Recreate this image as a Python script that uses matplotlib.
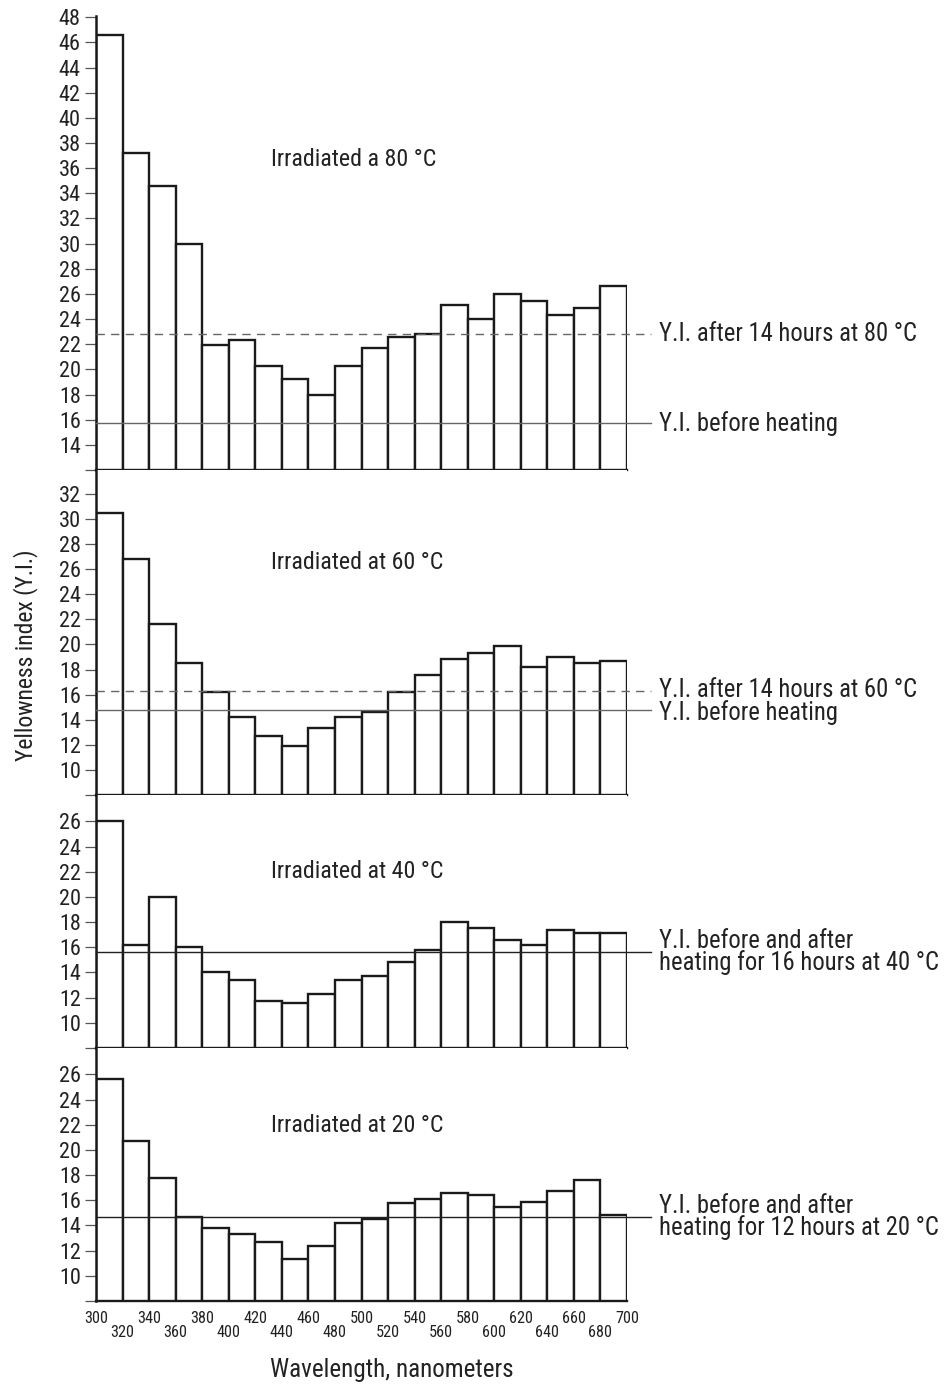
import numpy as np
import matplotlib
matplotlib.use("Agg")
import matplotlib.pyplot as plt
import matplotlib.transforms as mtransforms
import matplotlib.font_manager as fm
from matplotlib.textpath import TextPath
from matplotlib.font_manager import FontProperties

# The reference is set in a condensed grotesque. Among the installed sans
# families (and their width variants) pick the one whose width/cap-height
# ratio for the panel title is closest to it.
FAMILIES = ["Noto Sans", "Roboto", "Open Sans", "Lato", "Inter",
            "Liberation Sans", "DejaVu Sans"]
WIDTHS = {"", "Condensed", "SemiCondensed", "ExtraCondensed", "Narrow",
          "Semi Condensed", "Extra Condensed"}
SAMPLE = "Irradiated a 80 \u00b0C"

cands = {}
for f in fm.fontManager.ttflist:
    if f.style != "normal" or f.weight not in (400, "normal", "regular"):
        continue
    for p in FAMILIES:
        if f.name == p or (f.name.startswith(p + " ") and f.name[len(p) + 1:] in WIDTHS):
            cands.setdefault((f.name, f.stretch), f.fname)

best, best_score = None, None
for key, fname in list(cands.items())[:40]:
    fp = FontProperties(fname=fname)
    try:
        w = TextPath((0, 0), SAMPLE, size=100, prop=fp).get_extents().width
        h = TextPath((0, 0), "H", size=100, prop=fp).get_extents().height
    except Exception:
        continue
    score = abs(w / h - 166 / 18)
    if best_score is None or score < best_score:
        best, best_score = key, score

if best is None:
    best = ("DejaVu Sans", "normal")
plt.rcParams['font.family'] = [best[0], 'DejaVu Sans']
plt.rcParams['font.stretch'] = best[1]

# ===============================
# DATA
# ===============================
bin_edges = np.arange(300, 700, 20)          # left edge of each 20 nm band
xtick_vals = np.arange(300, 701, 20)

yi_80 = [46.6, 37.2, 34.6, 30.0, 21.9, 22.3, 20.3, 19.2, 18.0, 20.3,
         21.7, 22.6, 22.8, 25.1, 24.0, 26.0, 25.4, 24.3, 24.9, 26.6]
yi_60 = [30.5, 26.8, 21.6, 18.5, 16.2, 14.2, 12.7, 11.9, 13.3, 14.2,
         14.6, 16.2, 17.6, 18.8, 19.3, 19.9, 18.2, 19.0, 18.5, 18.7]
yi_40 = [26.0, 16.2, 20.0, 16.0, 14.0, 13.4, 11.7, 11.6, 12.3, 13.4,
         13.7, 14.8, 15.8, 18.0, 17.5, 16.6, 16.2, 17.4, 17.1, 17.1]
yi_20 = [25.6, 20.7, 17.8, 14.7, 13.8, 13.3, 12.7, 11.3, 12.4, 14.2,
         14.5, 15.8, 16.1, 16.6, 16.4, 15.5, 15.9, 16.7, 17.6, 14.8]

titles = ["Irradiated a 80 \u00b0C", "Irradiated at 60 \u00b0C",
          "Irradiated at 40 \u00b0C", "Irradiated at 20 \u00b0C"]

# reference levels: (value, dashed?, label, label nudge in px)
ref_80 = [(22.8, True, "Y.I. after 14 hours at 80 \u00b0C", 0),
          (15.7, False, "Y.I. before heating", 0)]
ref_60 = [(16.25, True, "Y.I. after 14 hours at 60 \u00b0C", 1),
          (14.8, False, "Y.I. before heating", -3)]
ref_40 = [(15.6, False, "Y.I. before and after\nheating for 16 hours at 40 \u00b0C", 0)]
ref_20 = [(14.7, False, "Y.I. before and after\nheating for 12 hours at 20 \u00b0C", 0)]

# ===============================
# LAYOUT  (pixel boxes from the reference)
# ===============================
W, H = 947, 1384
x0, x1 = 96, 627
panels = [
    # values, refs, title, top px, bottom px, ylo, yhi, ticks, title y frac, line colour
    (yi_80, ref_80, titles[0], 16, 470, 12, 48.1, np.arange(12, 49, 2), 0.685, "#666666"),
    (yi_60, ref_60, titles[1], 470, 795, 8, 33.9, np.arange(8, 33, 2), 0.714, "#666666"),
    (yi_40, ref_40, titles[2], 795, 1048, 8, 28.1, np.arange(8, 27, 2), 0.696, "#222222"),
    (yi_20, ref_20, titles[3], 1048, 1301, 8, 28.1, np.arange(8, 27, 2), 0.692, "#222222"),
]

fig = plt.figure(figsize=(W / 100, H / 100), dpi=100)

axes = []
title_texts = []
ref_texts = []
for vals, refs, title, top, bot, ylo, yhi, ticks, ty, lc in panels:
    ax = fig.add_axes([x0 / W, 1 - bot / H, (x1 - x0) / W, (bot - top) / H])
    axes.append(ax)

    ax.bar(bin_edges, vals, width=20, align="edge", color="white",
           edgecolor="#1a1a1a", linewidth=1.7, zorder=2)

    for v, dashed, label, nudge in refs:
        ls = (0, (6, 4.5)) if dashed else "-"
        ax.axhline(v, xmin=0, xmax=1.045, color=lc, lw=1.0, ls=ls,
                   clip_on=False, zorder=3)
        trans = mtransforms.blended_transform_factory(ax.transAxes, ax.transData)
        trans = trans + mtransforms.ScaledTranslation(0, nudge / 100, fig.dpi_scale_trans)
        t = ax.text(1.06, v, label, transform=trans, ha="left", va="center",
                    fontsize=18, linespacing=0.85, color="#222222")
        ref_texts.append(t)

    title_texts.append(ax.text(0.33, ty, title, transform=ax.transAxes,
                               ha="left", va="center", fontsize=18, color="#222222"))

    ax.set_xlim(300, 700)
    ax.set_ylim(ylo, yhi)
    ax.set_yticks(ticks)
    ax.set_yticklabels([""] + [str(t) for t in ticks[1:]])
    ax.tick_params(axis="y", length=8, width=0.9, color="#555555", pad=3,
                   labelsize=14, labelcolor="#222222")

    for s in ["top", "right"]:
        ax.spines[s].set_visible(False)
    ax.spines["left"].set_linewidth(1.8)
    ax.spines["left"].set_color("#1a1a1a")
    ax.spines["bottom"].set_linewidth(1.7)
    ax.spines["bottom"].set_color("#1a1a1a")
    ax.set_xticks([])

# bottom axis labels, staggered
ax = axes[-1]
ax.set_xticks(xtick_vals)
ax.set_xticklabels([str(v) if i % 2 == 0 else "\n" + str(v)
                    for i, v in enumerate(xtick_vals)])
ax.tick_params(axis="x", length=0, pad=7, labelsize=11, labelcolor="#222222")
for t in ax.get_xticklabels():
    t.set_linespacing(0.95)
    t.set_verticalalignment("top")

ylab = fig.text(26 / W, 1 - 655 / H, "Yellowness index (Y.I.)", rotation=90,
                ha="center", va="center", fontsize=18, color="#222222")
xlab = fig.text(392 / W, 1 - 1370 / H, "Wavelength, nanometers",
                ha="center", va="center", fontsize=19, color="#222222")

# size the text so its width matches the reference
fig.canvas.draw()
r = fig.canvas.get_renderer()


def fit(texts, sample, target_px, vertical=False):
    ext = sample.get_window_extent(r)
    w = ext.height if vertical else ext.width
    size = sample.get_fontsize() * target_px / w
    for t in texts:
        t.set_fontsize(size)


fit(title_texts, title_texts[0], 166)
fit(ref_texts, ref_texts[0], 258)
fit([ylab], ylab, 212, vertical=True)
fit([xlab], xlab, 244)
ytl = axes[0].get_yticklabels()[-1]          # "48"
size_y = ytl.get_fontsize() * 22 / ytl.get_window_extent(r).width
for a in axes:
    for t in a.get_yticklabels():
        t.set_fontsize(size_y)
fit(axes[-1].get_xticklabels(), axes[-1].get_xticklabels()[0], 24)

fig.savefig("out.png", dpi=100, facecolor="white")
